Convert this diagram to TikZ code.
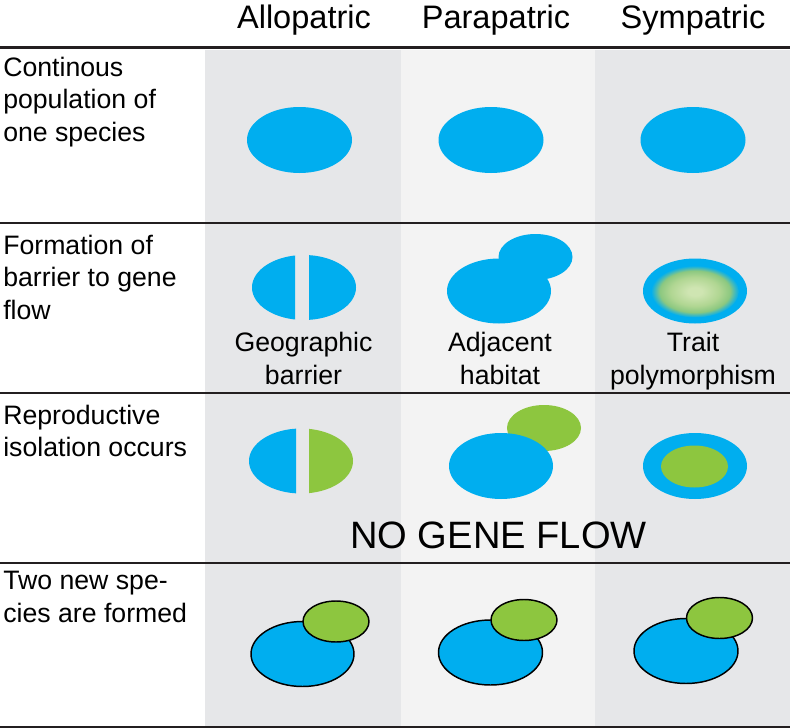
\documentclass[tikz,border=0pt]{standalone}
\usepackage{fontspec}
\setmainfont{Liberation Sans}
\definecolor{sblue}{RGB}{0,174,239}
\definecolor{sgreen}{RGB}{141,198,63}
\definecolor{colgray}{RGB}{230,231,233}
\definecolor{collight}{RGB}{243,243,243}
\definecolor{rulecol}{RGB}{35,31,32}
\definecolor{palegreen}{RGB}{207,229,178}
\definecolor{midgreen}{RGB}{176,214,146}
\definecolor{edgegreen}{RGB}{140,200,128}
\definecolor{tealmix}{RGB}{70,186,185}
\pgfdeclareradialshading{traitshade}{\pgfpointorigin}{color(0bp)=(palegreen); color(4bp)=(palegreen); color(14bp)=(midgreen); color(20bp)=(edgegreen); color(22.5bp)=(tealmix); color(25bp)=(sblue); color(50bp)=(sblue)}
\begin{document}
\begin{tikzpicture}[x=0.75pt,y=-0.75pt,
  lab/.style={anchor=base west, inner sep=0pt, font=\fontsize{20}{24}\selectfont},
  sub/.style={anchor=base, inner sep=0pt, font=\fontsize{20}{24}\selectfont},
  hdr/.style={anchor=base, inner sep=0pt, font=\fontsize{24.4}{29}\selectfont},
  big/.style={anchor=base, inner sep=0pt, font=\fontsize{28.6}{34}\selectfont},
  rowrule/.style={draw=rulecol, line width=1.5pt},
  toprule/.style={draw=rulecol, line width=2.25pt},
  popb/.style={fill=sblue},
  popg/.style={fill=sgreen},
  outb/.style={fill=sblue, draw=black, line width=1.1pt},
  outg/.style={fill=sgreen, draw=black, line width=1.1pt}]
% canvas
\fill[white] (0,0) rectangle (790,728);
\useasboundingbox (0,0) rectangle (790,728);
% column backgrounds
\fill[colgray] (205,50) rectangle (401,726);
\fill[collight] (401,50) rectangle (595,726);
\fill[colgray] (595,50) rectangle (790,726);
% headers
\node[hdr] (hA) at (304,28) {Allopatric};
\node[hdr] (hP) at (496,28) {Parapatric};
\node[hdr] (hS) at (693,28) {Sympatric};
% rules
\draw[toprule] (0,47.5) -- (790,47.5);
\draw[rowrule] (0,223) -- (790,223);
\draw[rowrule] (0,392.5) -- (790,392.5);
\draw[rowrule] (0,562.5) -- (790,562.5);
\draw[rowrule] (0,726.5) -- (790,726.5);
% left labels
\node[lab] (r1a) at (3,76) {Continous};
\node[lab] (r1b) at (3,108.5) {population of};
\node[lab] (r1c) at (3,141) {one species};
\node[lab] (r2a) at (3,254) {Formation of};
\node[lab] (r2b) at (3,286.5) {barrier to gene};
\node[lab] (r2c) at (3,319) {flow};
\node[lab] (r3a) at (3,424) {Reproductive};
\node[lab] (r3b) at (3,456.5) {isolation occurs};
\node[lab] (r4a) at (3,589) {Two new spe-};
\node[lab] (r4b) at (3,622) {cies are formed};
% row 1
\fill[popb] (299.5,140) ellipse [x radius=52.5, y radius=33];
\fill[popb] (491,140) ellipse [x radius=52.5, y radius=33];
\fill[popb] (693,140) ellipse [x radius=52.5, y radius=33];
% row 2
\begin{scope}
  \clip (240,240) rectangle (295,340);
  \fill[popb] (304,287.5) ellipse [x radius=52, y radius=32.5];
\end{scope}
\begin{scope}
  \clip (309,240) rectangle (370,340);
  \fill[popb] (304,287.5) ellipse [x radius=52, y radius=32.5];
\end{scope}
\fill[popb] (499,291) ellipse [x radius=52, y radius=32.5];
\fill[popb] (535.5,257) ellipse [x radius=37, y radius=23];
\fill[popb] (695,291) ellipse [x radius=52, y radius=32.5];
\shade[shading=traitshade] (695,291.5) ellipse [x radius=44, y radius=26];
\node[sub] (g1) at (303.5,351) {Geographic};
\node[sub] (g2) at (303.5,384) {barrier};
\node[sub] (a1) at (500,351) {Adjacent};
\node[sub] (a2) at (500,384) {habitat};
\node[sub] (t1) at (693,351) {Trait};
\node[sub] (t2) at (693,384) {polymorphism};
% row 3
\begin{scope}
  \clip (240,410) rectangle (296,510);
  \fill[popb] (301,461) ellipse [x radius=52, y radius=32.5];
\end{scope}
\begin{scope}
  \clip (309,410) rectangle (370,510);
  \fill[popg] (301,461) ellipse [x radius=52, y radius=32.5];
\end{scope}
\fill[popg] (544,428) ellipse [x radius=37, y radius=23];
\fill[popb] (501,466) ellipse [x radius=52, y radius=33];
\fill[popb] (695,466) ellipse [x radius=52, y radius=33];
\fill[popg] (694.5,466.5) ellipse [x radius=33.5, y radius=21];
\node[big] (ngf) at (498.5,548) {NO GENE FLOW};
% row 4
\filldraw[outb] (302.5,654) ellipse [x radius=51.5, y radius=32.5];
\filldraw[outg] (336,621.5) ellipse [x radius=33, y radius=20.5];
\filldraw[outb] (490.5,652.5) ellipse [x radius=52, y radius=32.5];
\filldraw[outg] (524,620) ellipse [x radius=33, y radius=20.5];
\filldraw[outb] (686,651) ellipse [x radius=52, y radius=32.5];
\filldraw[outg] (719.5,618) ellipse [x radius=33, y radius=20.5];
\end{tikzpicture}
\end{document}
